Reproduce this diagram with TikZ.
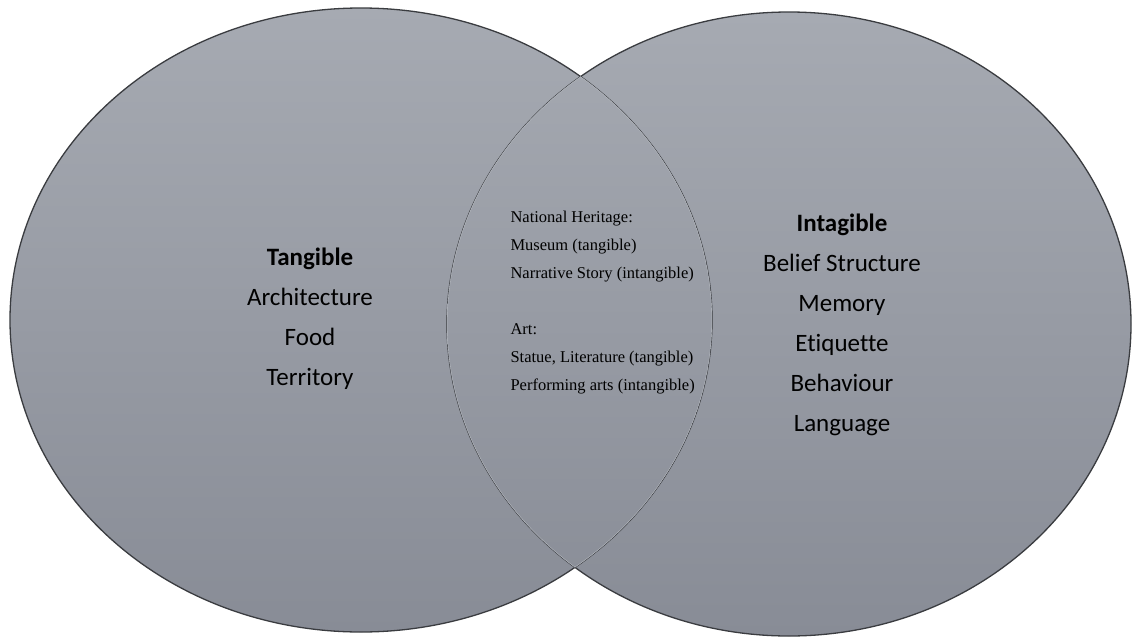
\documentclass[tikz,border=0pt]{standalone}
\usepackage{fontspec}
\newfontfamily\carlito[Ligatures={NoCommon}]{Carlito}
\newfontfamily\timesf{Liberation Serif}
\definecolor{topgray}{HTML}{A6AAB2}
\definecolor{botgray}{HTML}{888C96}
\definecolor{edgegray}{HTML}{3A3C40}
\definecolor{lensedge}{HTML}{B4B8BE}
\tikzset{
  blob/.style={top color=topgray, bottom color=botgray, draw=none},
  outline/.style={draw=edgegray, line width=1.3pt},
  lensline/.style={draw=lensedge, line width=0.8pt},
  bigtext/.style={font=\carlito\fontsize{25}{40}\selectfont, align=center, text=black},
  smalltext/.style={font=\timesf\fontsize{16.5}{28}\selectfont, align=left, text=black, anchor=north west}
}
\begin{document}
\begin{tikzpicture}[x=1pt,y=-1pt]
\useasboundingbox (0,0) rectangle (1132,637);
\fill[white] (0,0) rectangle (1132,637);
\shade[blob] (361,320) ellipse [x radius=351, y radius=312];
\shade[blob] (789,324) ellipse [x radius=342, y radius=312];
\draw[outline] (361,320) ellipse [x radius=351, y radius=312];
\draw[outline] (789,324) ellipse [x radius=342, y radius=312];
\begin{scope}
  \clip (361,320) ellipse [x radius=351, y radius=312];
  \clip (789,324) ellipse [x radius=342, y radius=312];
  \shade[blob] (447,8) rectangle (712,636);
  \draw[lensline] (361,320) ellipse [x radius=351, y radius=312];
  \draw[lensline] (789,324) ellipse [x radius=342, y radius=312];
\end{scope}
\node[bigtext] (tangible) at (310,319) {\textbf{Tangible}\\Architecture\\Food\\Territory};
\node[bigtext] (intangible) at (842,325) {\textbf{Intagible}\\Belief Structure\\Memory\\Etiquette\\Behaviour\\Language};
\node[smalltext] (both) at (507,208) {National Heritage:\\Museum (tangible)\\Narrative Story (intangible)\\[28pt]Art:\\Statue, Literature (tangible)\\Performing arts (intangible)};
\end{tikzpicture}
\end{document}
